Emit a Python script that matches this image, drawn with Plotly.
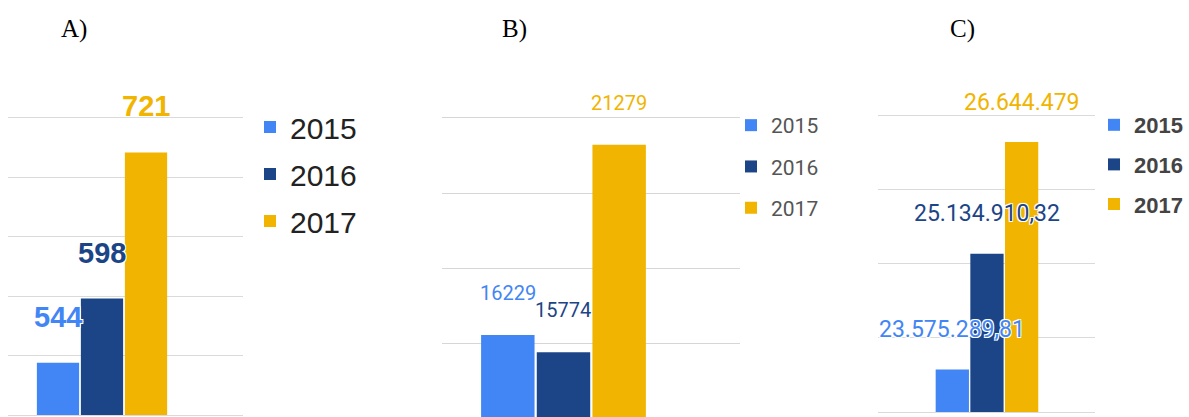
import plotly.graph_objects as go

W, H = 1189, 417

years = ["2015", "2016", "2017"]
bar_colors = ["#4285f4", "#1c4587", "#f1b400"]

values_a = [544, 598, 721]
labels_a = ["544", "598", "721"]
ticks_a = [500, 550, 600, 650, 700, 750]

values_b = [16229, 15774, 21279]
labels_b = ["16229", "15774", "21279"]
ticks_b = [14000, 16000, 18000, 20000, 22000]

values_c = [23575289.81, 25134910.32, 26644479]
labels_c = ["23.575.289,81", "25.134.910,32", "26.644.479"]
ticks_c = [23000000, 24000000, 25000000, 26000000, 27000000]

panel_titles = ["A)", "B)", "C)"]

halo = "-1px -1px 0 #fff, 1px -1px 0 #fff, -1px 1px 0 #fff, 1px 1px 0 #fff"


def xdom(a, b):
    return [a / W, b / W]


def ydom(top, bottom):
    return [1 - bottom / H, 1 - top / H]


panels = [
    dict(ax="", leg="legend", vals=values_a, labels=labels_a, ticks=ticks_a,
         xdomain=xdom(8, 243), ydomain=ydom(0, 415),
         xrange=[-0.712, 1.068], yrange=[500, 849.3], baseline=True,
         grid="#dadada", lab_font=dict(family="Arial, Liberation Sans", size=29, weight="bold"),
         lab_shift=46, halo=True),
    dict(ax="2", leg="legend2", vals=values_b, labels=labels_b, ticks=ticks_b,
         xdomain=xdom(442, 740), ydomain=ydom(0, 417),
         xrange=[-0.7275, 1.057], yrange=[14053, 25126], baseline=False,
         grid="#d6d6d6", lab_font=dict(family="Roboto", size=20),
         lab_shift=42, halo=False),
    dict(ax="3", leg="legend3", vals=values_c, labels=labels_c, ticks=ticks_c,
         xdomain=xdom(878, 1095), ydomain=ydom(0, 412),
         xrange=[-1.048, 1.039], yrange=[23000000, 28562000], baseline=True,
         grid="#dadada", lab_font=dict(family="Roboto", size=23),
         lab_shift=40, halo=True),
]

fig = go.Figure()
annotations = []

for p in panels:
    for i, yr in enumerate(years):
        fig.add_trace(go.Bar(
            x=[0],
            y=[p["vals"][i]],
            name=yr,
            marker=dict(color=bar_colors[i], line=dict(width=0)),
            xaxis="x" + p["ax"],
            yaxis="y" + p["ax"],
            legend=p["leg"],
            legendgroup=p["leg"] + yr,
            hoverinfo="skip",
        ))
        font = dict(p["lab_font"], color=bar_colors[i])
        if p["halo"]:
            font["shadow"] = halo
        annotations.append(dict(
            x=(i - 1) / 3, y=p["vals"][i],
            xref="x" + p["ax"], yref="y" + p["ax"],
            xanchor="center", yanchor="middle",
            text=p["labels"][i], showarrow=False,
            yshift=p["lab_shift"], font=font,
        ))

for t, cx in zip(panel_titles, [74, 514, 962]):
    annotations.append(dict(
        x=cx / W, y=1 - 29 / H, xref="paper", yref="paper",
        xanchor="center", yanchor="middle",
        text=t, showarrow=False,
        font=dict(family="Liberation Serif, Times New Roman", size=25, color="#000"),
    ))

layout = dict(
    width=W, height=H,
    margin=dict(l=0, r=0, t=0, b=0),
    paper_bgcolor="white", plot_bgcolor="white",
    barmode="group", bargap=0, bargroupgap=0.04,
    annotations=annotations,
    legend=dict(x=250 / W, y=1 - 101 / H, xanchor="left", yanchor="top",
                font=dict(family="Arial, Liberation Sans", size=30, color="#222"),
                tracegroupgap=5, bgcolor="rgba(0,0,0,0)"),
    legend2=dict(x=731 / W, y=1 - 105 / H, xanchor="left", yanchor="top",
                 font=dict(family="Roboto", size=21, color="#555"),
                 tracegroupgap=11, bgcolor="rgba(0,0,0,0)"),
    legend3=dict(x=1094 / W, y=1 - 104 / H, xanchor="left", yanchor="top",
                 font=dict(family="Arial, Liberation Sans", size=22, color="#444", weight="bold"),
                 tracegroupgap=8, bgcolor="rgba(0,0,0,0)"),
)

for p in panels:
    layout["xaxis" + p["ax"]] = dict(
        domain=p["xdomain"], range=p["xrange"], anchor="y" + p["ax"],
        showticklabels=False, ticks="", showgrid=False, zeroline=False,
        showline=p["baseline"], linecolor=p["grid"], linewidth=1, fixedrange=True,
    )
    layout["yaxis" + p["ax"]] = dict(
        domain=p["ydomain"], range=p["yrange"], anchor="x" + p["ax"],
        tickvals=p["ticks"], showticklabels=False, ticks="",
        showgrid=True, gridcolor=p["grid"], gridwidth=1, zeroline=False,
        fixedrange=True,
    )

fig.update_layout(**layout)
fig.write_html("out.html", config={"displayModeBar": False},
               post_script="document.body.style.margin='0';")
